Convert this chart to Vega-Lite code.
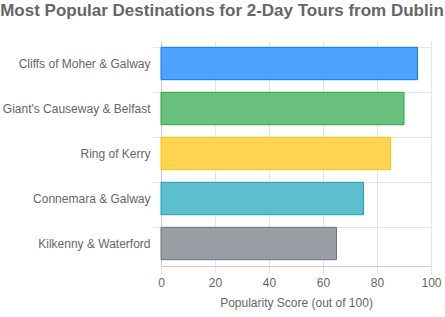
{
  "$schema": "https://vega.github.io/schema/vega-lite/v6.json",
  "autosize": {"type": "none"},
  "width": 270,
  "height": 225,
  "padding": {"left": 161, "top": 41, "right": 14, "bottom": 51},
  "background": "white",
  "config": {
    "font": "Liberation Sans",
    "view": {"stroke": null}
  },
  "title": {
    "text": "Most Popular Destinations for 2-Day Tours from Dublin",
    "fontSize": 17,
    "fontWeight": "bold",
    "color": "#666666",
    "font": "Liberation Sans",
    "anchor": "middle",
    "dx": -74,
    "offset": 21
  },
  "data": {
    "values": [
      {"destination": "Cliffs of Moher & Galway", "score": 95, "fill": "#4da3ff", "stroke": "#007bff"},
      {"destination": "Giant's Causeway & Belfast", "score": 90, "fill": "#69c17d", "stroke": "#28a745"},
      {"destination": "Ring of Kerry", "score": 85, "fill": "#ffd451", "stroke": "#ffc107"},
      {"destination": "Connemara & Galway", "score": 75, "fill": "#5dbecd", "stroke": "#17a2b8"},
      {"destination": "Kilkenny & Waterford", "score": 65, "fill": "#989ea4", "stroke": "#6c757d"}
    ]
  },
  "mark": {"type": "bar", "strokeWidth": 1, "cornerRadius": 0},
  "encoding": {
    "y": {
      "field": "destination",
      "type": "nominal",
      "sort": null,
      "scale": {"paddingInner": 0.28, "paddingOuter": 0.14},
      "axis": {
        "title": null,
        "bandPosition": 0,
        "grid": true,
        "gridColor": "#e5e5e5",
        "tickColor": "#e5e5e5",
        "tickSize": 8,
        "domainColor": "#cccccc",
        "labelFontSize": 12,
        "labelColor": "#666666",
        "labelPadding": 3,
        "labelFont": "Liberation Sans"
      }
    },
    "x": {
      "field": "score",
      "type": "quantitative",
      "scale": {"domain": [0, 100], "nice": false},
      "axis": {
        "title": "Popularity Score (out of 100)",
        "values": [0, 20, 40, 60, 80, 100],
        "labelFlush": false,
        "grid": true,
        "gridColor": "#e5e5e5",
        "tickColor": "#e5e5e5",
        "tickSize": 8,
        "domainColor": "#cccccc",
        "labelFontSize": 12,
        "labelColor": "#666666",
        "labelPadding": 3,
        "labelFont": "Liberation Sans",
        "titleFontSize": 12,
        "titleFontWeight": "normal",
        "titleColor": "#666666",
        "titleFont": "Liberation Sans",
        "titlePadding": 9
      }
    },
    "fill": {"field": "fill", "type": "nominal", "scale": null},
    "stroke": {"field": "stroke", "type": "nominal", "scale": null}
  }
}
